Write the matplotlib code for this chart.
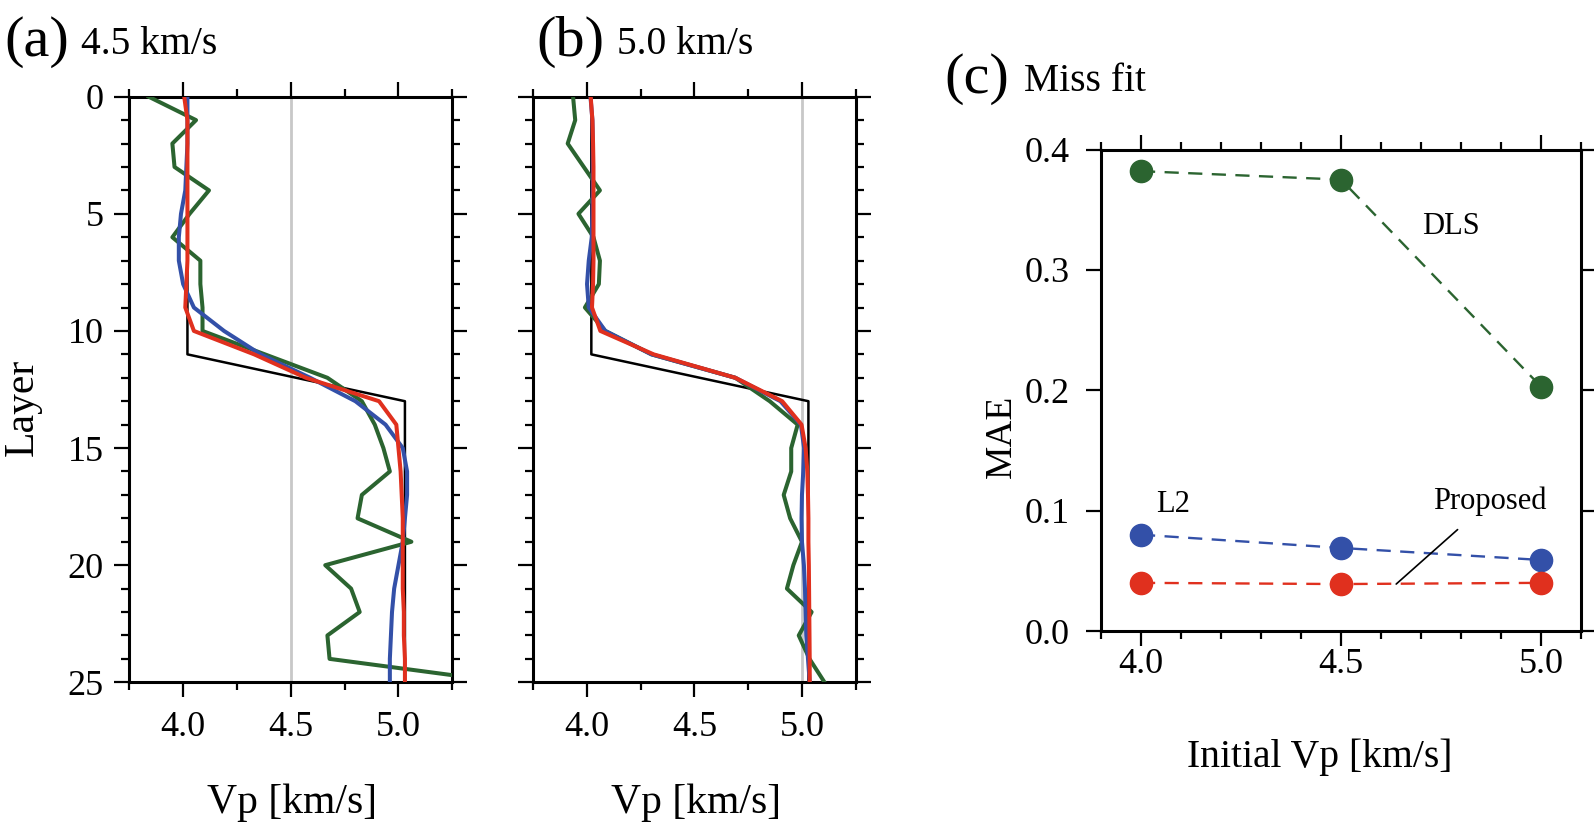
import matplotlib
matplotlib.use("Agg")
import matplotlib.pyplot as plt
from matplotlib.ticker import MultipleLocator, FormatStrFormatter

plt.rcParams['font.family'] = ['Liberation Serif', 'DejaVu Serif']

# ---------------- data ----------------
layers = list(range(26))

true_a = [4.02, 4.02, 4.02, 4.02, 4.02, 4.02, 4.02, 4.02, 4.02, 4.02, 4.02, 4.02, 4.525,
          5.03, 5.03, 5.03, 5.03, 5.03, 5.03, 5.03, 5.03, 5.03, 5.03, 5.03, 5.03, 5.03]
dls_a = [3.84, 4.06, 3.95, 3.96, 4.12, 4.03, 3.95, 4.08, 4.08, 4.09, 4.09, 4.38, 4.67,
         4.83, 4.89, 4.93, 4.96, 4.83, 4.81, 5.06, 4.66, 4.78, 4.82, 4.67, 4.68, 5.50]
l2_a = [4.02, 4.02, 4.02, 4.015, 4.01, 3.99, 3.98, 3.98, 4.00, 4.05, 4.19, 4.36, 4.59,
        4.80, 4.94, 5.02, 5.04, 5.04, 5.03, 5.02, 5.00, 4.98, 4.97, 4.965, 4.96, 4.96]
prop_a = [4.005, 4.02, 4.02, 4.02, 4.02, 4.02, 4.02, 4.02, 4.015, 4.01, 4.05, 4.33, 4.57,
          4.91, 4.99, 5.00, 5.01, 5.015, 5.02, 5.02, 5.02, 5.02, 5.025, 5.025, 5.03, 5.03]

true_b = [4.02, 4.02, 4.02, 4.02, 4.02, 4.02, 4.02, 4.02, 4.02, 4.02, 4.02, 4.02, 4.525,
          5.03, 5.03, 5.03, 5.03, 5.03, 5.03, 5.03, 5.03, 5.03, 5.03, 5.03, 5.03, 5.03]
dls_b = [3.935, 3.945, 3.91, 3.985, 4.06, 3.96, 4.03, 4.06, 4.055, 3.99, 4.085, 4.30, 4.69,
         4.85, 4.98, 4.95, 4.95, 4.915, 4.945, 5.00, 4.96, 4.93, 5.045, 4.985, 5.035, 5.105]
l2_b = [4.016, 4.025, 4.027, 4.027, 4.027, 4.025, 4.022, 4.008, 4.00, 4.008, 4.085, 4.30, 4.69,
        4.90, 4.995, 5.01, 5.006, 5.00, 4.998, 5.00, 5.009, 5.014, 5.017, 5.02, 5.028, 5.036]
prop_b = [4.017, 4.025, 4.028, 4.03, 4.03, 4.03, 4.03, 4.03, 4.028, 4.023, 4.062, 4.31, 4.69,
          4.908, 4.998, 5.017, 5.025, 5.028, 5.03, 5.03, 5.032, 5.033, 5.034, 5.035, 5.036, 5.036]

initial_a = 4.5
initial_b = 5.0

initial_vp = [4.0, 4.5, 5.0]
mae_dls = [0.382, 0.375, 0.203]
mae_l2 = [0.080, 0.069, 0.059]
mae_prop = [0.040, 0.039, 0.040]

# ---------------- style ----------------
GREEN = '#2b6430'
BLUE = '#3350a8'
RED = '#e0301e'
GRAY = '#c8c8c8'
FS_TICK = 26
FS_LABEL = 30
FS_TITLE = 28.5
FS_LETTER = 42

W, H = 1594, 824
fig = plt.figure(figsize=(W / 100, H / 100), dpi=100)


def box(l, t, r, b):
    return [l / W, 1 - b / H, (r - l) / W, (b - t) / H]


def style_axes(ax, spine_w=2.2):
    for s in ax.spines.values():
        s.set_linewidth(spine_w)
    ax.tick_params(which='both', direction='out', top=True, right=True,
                   labeltop=False, labelright=False, width=1.6,
                   labelsize=FS_TICK)
    ax.tick_params(which='major', length=10.5)
    ax.tick_params(which='minor', length=6)


def profile_panel(ax, true_v, dls, l2, prop, init_v, show_ylabel):
    ax.axvline(init_v, color=GRAY, lw=2.0, zorder=1)
    ax.plot(true_v, layers, color='black', lw=1.8, zorder=2)
    ax.plot(dls, layers, color=GREEN, lw=2.9, zorder=3)
    ax.plot(l2, layers, color=BLUE, lw=2.9, zorder=4)
    ax.plot(prop, layers, color=RED, lw=2.9, zorder=5)
    ax.set_xlim(3.75, 5.25)
    ax.set_ylim(25, 0)
    ax.xaxis.set_major_locator(MultipleLocator(0.5))
    ax.xaxis.set_minor_locator(MultipleLocator(0.25))
    ax.yaxis.set_major_locator(MultipleLocator(5))
    ax.yaxis.set_minor_locator(MultipleLocator(1))
    ax.xaxis.set_major_formatter(FormatStrFormatter('%.1f'))
    style_axes(ax)
    ax.tick_params(axis='x', which='both', pad=10)
    ax.tick_params(axis='y', which='both', pad=8)
    if not show_ylabel:
        ax.tick_params(axis='y', labelleft=False)
    ax.set_xlabel('Vp [km/s]', fontsize=FS_LABEL)
    ax.xaxis.set_label_coords(0.505, -0.206)
    ax.xaxis.label.set_va('center')


axa = fig.add_axes(box(129.3, 96.7, 452.3, 682.3))
profile_panel(axa, true_a, dls_a, l2_a, prop_a, initial_a, True)
axa.set_ylabel('Layer', fontsize=FS_LABEL)
axa.yaxis.set_label_coords(-0.332, 0.47)
axa.yaxis.label.set_va('center')

axb = fig.add_axes(box(533.3, 96.7, 855.7, 682.3))
profile_panel(axb, true_b, dls_b, l2_b, prop_b, initial_b, False)

axc = fig.add_axes(box(1101, 149.5, 1581, 631))
ms = 16
axc.plot(initial_vp, mae_dls, color=GREEN, lw=1.7, ls=(0, (6, 4)), marker='o',
         ms=ms, mec=GREEN, mfc=GREEN, zorder=3)
axc.plot(initial_vp, mae_l2, color=BLUE, lw=1.7, ls=(0, (6, 4)), marker='o',
         ms=ms, mec=BLUE, mfc=BLUE, zorder=3)
axc.plot(initial_vp, mae_prop, color=RED, lw=1.7, ls=(0, (6, 4)), marker='o',
         ms=ms, mec=RED, mfc=RED, zorder=3)
axc.set_xlim(3.9, 5.1)
axc.set_ylim(0.0, 0.4)
axc.xaxis.set_major_locator(MultipleLocator(0.5))
axc.xaxis.set_minor_locator(MultipleLocator(0.1))
axc.yaxis.set_major_locator(MultipleLocator(0.1))
axc.xaxis.set_major_formatter(FormatStrFormatter('%.1f'))
axc.yaxis.set_major_formatter(FormatStrFormatter('%.1f'))
style_axes(axc)
axc.tick_params(axis='x', which='both', pad=2)
axc.tick_params(axis='y', which='both', pad=12)
axc.set_xlabel('Initial Vp [km/s]', fontsize=28.5)
axc.xaxis.set_label_coords(0.456, -0.262)
axc.xaxis.label.set_va('center')
axc.set_ylabel('MAE', fontsize=27)
axc.yaxis.set_label_coords(-0.208, 0.405)
axc.yaxis.label.set_va('center')

axc.text(4.774, 0.336, 'DLS', fontsize=22, ha='center', va='center')
axc.text(4.08, 0.105, 'L2', fontsize=22, ha='center', va='center')
axc.annotate('Proposed', xy=(4.638, 0.039), xytext=(4.872, 0.108),
             fontsize=22, ha='center', va='center',
             arrowprops=dict(arrowstyle='-', color='black', lw=1.2,
                             shrinkA=12, shrinkB=0))

# titles
fig.text(4 / W, 1 - 56 / H, '(a)', fontsize=FS_LETTER, ha='left', va='baseline')
fig.text(81 / W, 1 - 54 / H, '4.5 km/s', fontsize=FS_TITLE, ha='left', va='baseline')
fig.text(536 / W, 1 - 56 / H, '(b)', fontsize=FS_LETTER, ha='left', va='baseline')
fig.text(617 / W, 1 - 54 / H, '5.0 km/s', fontsize=FS_TITLE, ha='left', va='baseline')
fig.text(944 / W, 1 - 93 / H, '(c)', fontsize=FS_LETTER, ha='left', va='baseline')
fig.text(1024 / W, 1 - 91 / H, 'Miss fit', fontsize=FS_TITLE, ha='left', va='baseline')

fig.savefig('out.png', dpi=100)
